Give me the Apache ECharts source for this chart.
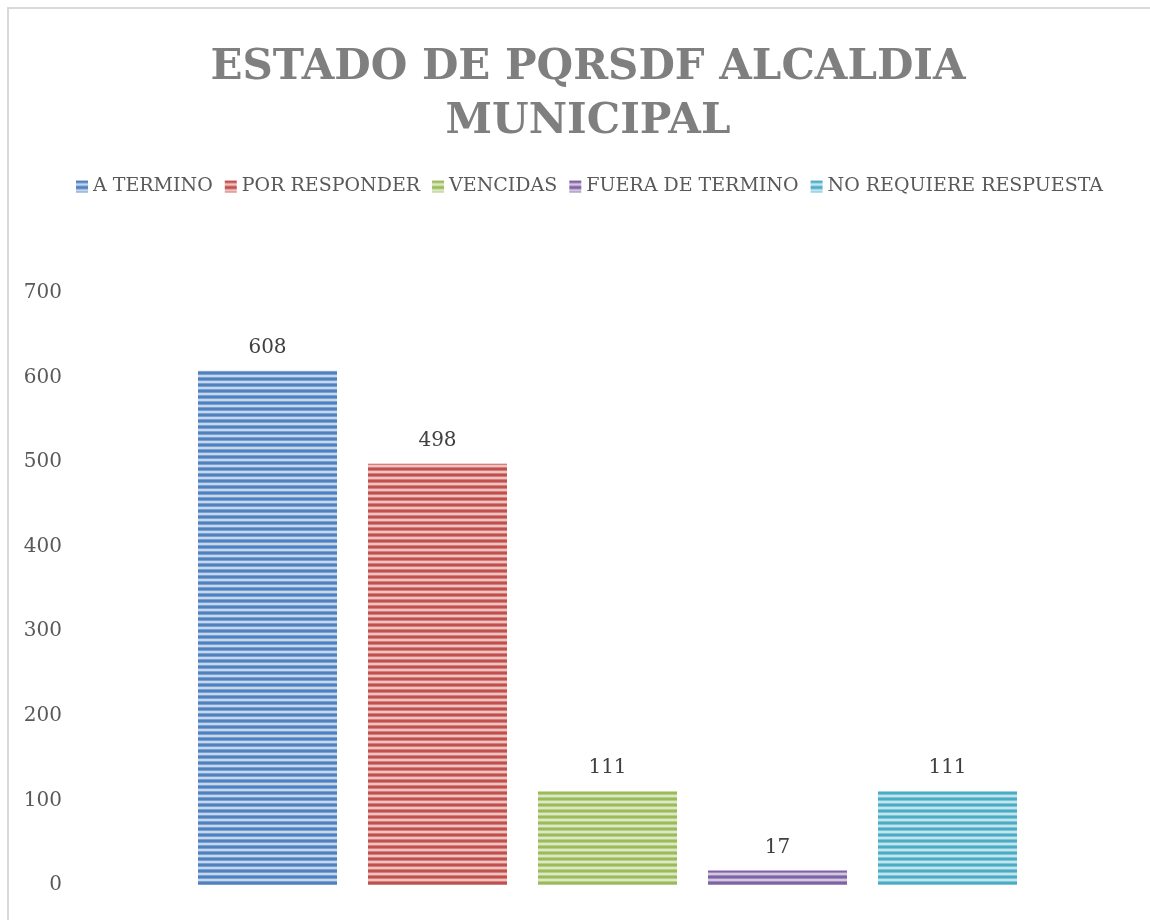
<!DOCTYPE html>
<html>
<head>
<meta charset="utf-8">
<script src="https://cdn.jsdelivr.net/npm/echarts@6/dist/echarts.min.js"></script>
<style>
  html, body { margin: 0; padding: 0; background: #fff; }
  #main { width: 1150px; height: 920px; }
</style>
</head>
<body>
<div id="main"></div>
<script>
const titleText = 'ESTADO DE PQRSDF ALCALDIA\nMUNICIPAL';
const seriesNames = ['A TERMINO', 'POR RESPONDER', 'VENCIDAS', 'FUERA DE TERMINO', 'NO REQUIERE RESPUESTA'];
const seriesValues = [608, 498, 111, 17, 111];
const yTicks = { min: 0, max: 700, interval: 100 };

const baseColors = ['#4f81bd', '#c0504d', '#9bbb59', '#8064a2', '#4bacc6'];
const midColors = ['#7ba0d2', '#d27f7d', '#b7cf89', '#a08bbd', '#7ec5d8'];
const lightColors = ['#c6d7ee', '#efc3c2', '#dde9c6', '#d3c8e1', '#c3e5ee'];

// horizontal stripe pattern like the office "gradient lines" fill
const makePattern = (i) => {
  const c = document.createElement('canvas');
  c.width = 4;
  c.height = 6;
  const ctx = c.getContext('2d');
  const rows = [baseColors[i], baseColors[i], midColors[i], lightColors[i], lightColors[i], midColors[i]];
  rows.forEach((col, r) => {
    ctx.fillStyle = col;
    ctx.fillRect(0, r, 4, 1);
  });
  return c;
};

const myChart = echarts.init(document.getElementById('main'));

const series = seriesNames.map((name, i) => ({
  name: name,
  type: 'bar',
  data: [seriesValues[i]],
  barWidth: 139,
  barGap: '22.3%',
  itemStyle: {
    color: { image: makePattern(i), repeat: 'repeat' },
  },
  label: {
    show: true,
    position: 'top',
    distance: 13,
    fontFamily: 'DejaVu Serif',
    fontSize: 20,
    color: '#404040',
  },
}));

const option = {
  animation: false,
  color: midColors,
  title: {
    text: titleText,
    left: 583,
    top: 36,
    textAlign: 'center',
    textStyle: {
      fontFamily: 'DejaVu Serif',
      fontWeight: 'bold',
      fontSize: 42,
      lineHeight: 54,
      color: '#7f7f7f',
    },
  },
  legend: {
    top: 172,
    left: 71,
    itemWidth: 12,
    itemHeight: 12,
    itemGap: 12,
    icon: 'rect',
    textStyle: {
      fontFamily: 'DejaVu Serif',
      fontSize: 19,
      color: '#595959',
    },
    data: seriesNames,
  },
  grid: {
    left: 70,
    right: 5,
    top: 293,
    bottom: 35,
  },
  xAxis: {
    type: 'category',
    data: [''],
    axisLine: { show: false },
    axisTick: { show: false },
    axisLabel: { show: false },
  },
  yAxis: {
    type: 'value',
    min: yTicks.min,
    max: yTicks.max,
    interval: yTicks.interval,
    axisLine: { show: false },
    axisTick: { show: false },
    splitLine: { show: false },
    axisLabel: {
      margin: 8,
      fontFamily: 'DejaVu Serif',
      fontSize: 20,
      color: '#595959',
    },
  },
  graphic: [
    {
      type: 'rect',
      shape: { x: 8, y: 8, width: 1160, height: 930 },
      style: { fill: 'none', stroke: '#d9d9d9', lineWidth: 2 },
      silent: true,
    },
  ],
  series: series,
};

myChart.setOption(option);
</script>
</body>
</html>
